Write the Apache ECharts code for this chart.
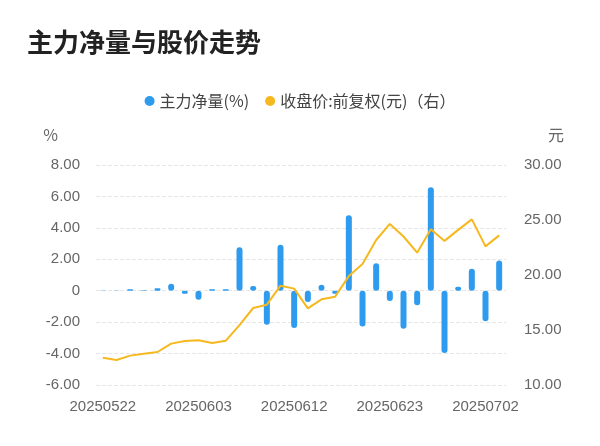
<!DOCTYPE html>
<html lang="zh">
<head>
<meta charset="UTF-8">
<title>主力净量与股价走势</title>
<script src="https://cdn.jsdelivr.net/npm/echarts@6/dist/echarts.min.js"></script>
<style>
    html, body { margin: 0; padding: 0; background: #fff; }
    #charts { width: 600px; height: 446px; }
</style>
</head>
<body>
<div id="charts"></div>
<script>
    var dates = ['20250522','20250523','20250526','20250527','20250528','20250529','20250530',
        '20250603','20250604','20250605','20250606','20250609','20250610','20250611','20250612',
        '20250613','20250616','20250617','20250618','20250619','20250620','20250623','20250624',
        '20250625','20250626','20250627','20250630','20250701','20250702','20250703'];
    var netFlow = [0.02, 0.02, 0.1, 0.03, 0.15, 0.45, -0.2, -0.57, 0.1, 0.1, 2.76, 0.3, -2.17, 2.93, -2.38,
        -0.72, 0.38, -0.2, 4.8, -2.27, 1.74, -0.66, -2.42, -0.93, 6.58, -3.97, 0.25, 1.4, -1.95, 1.93];
    var price = [12.48, 12.27, 12.67, 12.85, 13.0, 13.76, 14.0, 14.06, 13.82, 14.03, 15.45, 17.0, 17.3, 19.03, 18.76,
        16.97, 17.79, 18.03, 19.9, 21.0, 23.18, 24.64, 23.5, 22.03, 24.15, 23.1, 24.1, 25.06, 22.6, 23.6];

    var myChart = echarts.init(document.getElementById('charts'));
    var font = 'Noto Sans CJK SC';
    var numFont = 'Liberation Sans';
    var axisText = { color: '#666', fontSize: 15, fontFamily: numFont };

    var option = {
        title: {
            text: '主力净量与股价走势',
            left: 22, top: 24,
            textStyle: { fontSize: 26, fontWeight: 'bold', color: '#222', fontFamily: font }
        },
        legend: {
            top: 88, left: 'center',
            itemWidth: 10, itemHeight: 10, itemGap: 16,
            textStyle: { fontSize: 16, color: '#444', fontFamily: font },
            data: [
                { name: '主力净量(%)', icon: 'circle' },
                { name: '收盘价:前复权(元)（右）', icon: 'circle' }
            ]
        },
        grid: { left: 96, right: 94, top: 165, bottom: 61 },
        xAxis: {
            type: 'category',
            data: dates,
            axisTick: { show: false },
            axisLine: { show: false },
            axisLabel: { interval: 6, color: '#666', fontSize: 15, fontFamily: numFont, margin: 14 }
        },
        yAxis: [{
            type: 'value', min: -6, max: 8, interval: 2,
            name: '%', nameGap: 22,
            nameTextStyle: { color: '#666', fontSize: 16, align: 'right', padding: [0, 38, 0, 0], fontFamily: font },
            axisLabel: Object.assign({ formatter: function (v) { return v === 0 ? '0' : v.toFixed(2); }, margin: 16 }, axisText),
            splitLine: { lineStyle: { type: 'dashed', color: '#e6e6e6' } }
        }, {
            type: 'value', min: 10, max: 30, interval: 5,
            name: '元', nameGap: 22,
            nameTextStyle: { color: '#666', fontSize: 16, align: 'left', padding: [0, 0, 0, 42], fontFamily: font },
            axisLabel: Object.assign({ formatter: function (v) { return v.toFixed(2); }, margin: 18 }, axisText),
            splitLine: { show: false }
        }],
        series: [{
            name: '主力净量(%)',
            type: 'bar',
            data: netFlow,
            barWidth: 6,
            itemStyle: {
                color: '#2f9bef',
                borderRadius: 3
            }
        }, {
            name: '收盘价:前复权(元)（右）',
            type: 'line',
            yAxisIndex: 1,
            data: price,
            symbol: 'none',
            lineStyle: { color: '#f6b81f', width: 2 },
            itemStyle: { color: '#f6b81f' }
        }]
    };
    myChart.setOption(option);
</script>
</body>
</html>
